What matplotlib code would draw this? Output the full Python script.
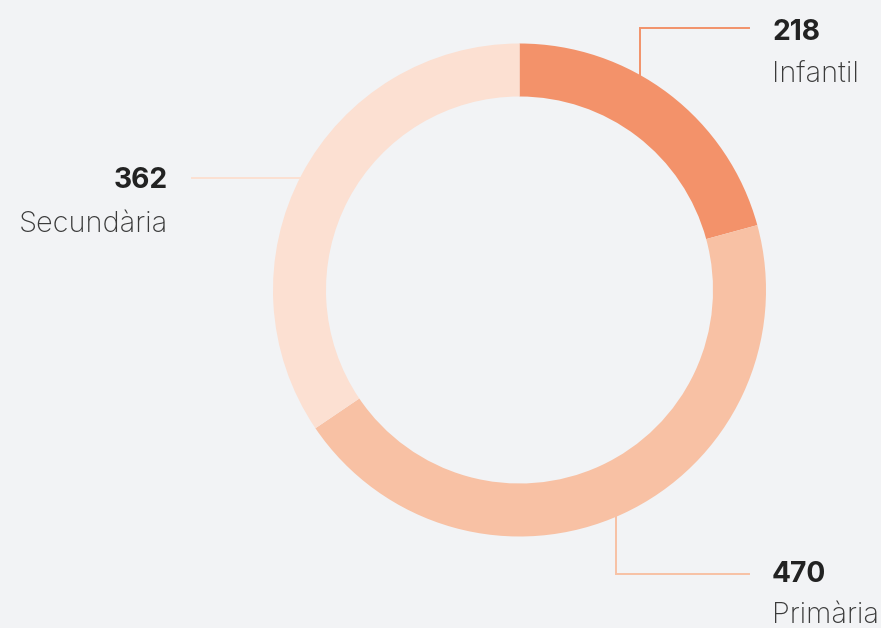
import matplotlib
matplotlib.use("Agg")
import matplotlib.pyplot as plt
import numpy as np

categories = ["Infantil", "Primària", "Secundària"]
values = [218, 470, 362]
colors = ["#F3926A", "#F8C1A4", "#FCE0D2"]

W, H = 881, 628
BG = "#F2F3F5"

fig = plt.figure(figsize=(W / 100, H / 100), dpi=100, facecolor=BG)
ax = fig.add_axes([0, 0, 1, 1])
ax.set_facecolor(BG)

cx, cy = 519.5, H - 290
R = 246.5
ring = 53

ax.pie(values, colors=colors, startangle=90, counterclock=False,
       center=(cx, cy), radius=R,
       wedgeprops=dict(width=ring, edgecolor="none", linewidth=0))

ax.set_xlim(0, W)
ax.set_ylim(0, H)
ax.set_aspect("equal")
ax.axis("off")


def Y(y):
    return H - y


def arc_y_top(x):
    return cy + np.sqrt(R ** 2 - (x - cx) ** 2)


def arc_y_bottom(x):
    return cy - np.sqrt(R ** 2 - (x - cx) ** 2)


def arc_x_left(y):
    return cx - np.sqrt(R ** 2 - (y - cy) ** 2)


lw = 1.4
num_style = dict(fontfamily="Inter", fontweight="bold", fontsize=20.3, color="#222222")
lab_style = dict(fontfamily="Inter", fontweight="light", fontsize=20.8, color="#3a3a3a")

# Infantil leader
x0 = 640
ax.plot([x0, x0, 749], [arc_y_top(x0), Y(28), Y(28)], color=colors[0], lw=lw,
        solid_joinstyle="miter", zorder=0)
ax.text(772, Y(40), str(values[0]), ha="left", va="baseline", **num_style)
ax.text(772, Y(82), categories[0], ha="left", va="baseline", **lab_style)

# Primària leader
x1 = 616
ax.plot([x1, x1, 749], [arc_y_bottom(x1), Y(574), Y(574)], color=colors[1], lw=lw,
        solid_joinstyle="miter", zorder=0)
ax.text(772, Y(582), str(values[1]), ha="left", va="baseline", **num_style)
ax.text(772, Y(623), categories[1], ha="left", va="baseline", **lab_style)

# Secundària leader
y2 = Y(178)
ax.plot([192, arc_x_left(y2)], [y2, y2], color=colors[2], lw=lw, zorder=0)
ax.text(168, Y(188), str(values[2]), ha="right", va="baseline", **num_style)
ax.text(168, Y(232), categories[2], ha="right", va="baseline", **lab_style)

fig.savefig("out.png", dpi=100, facecolor=BG)
